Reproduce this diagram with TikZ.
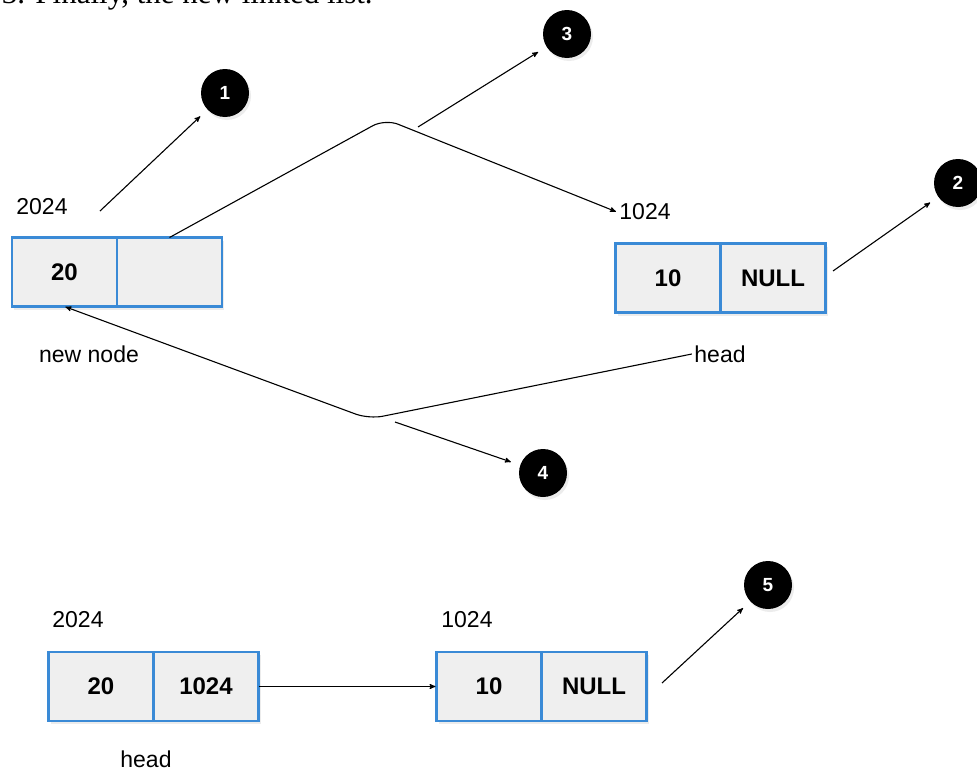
\documentclass[tikz,border=0pt]{standalone}
\usepackage{fontspec}
\setmainfont{Liberation Serif}
\newfontfamily\diafont{Liberation Sans}
\usetikzlibrary{arrows,shadows,positioning}
\definecolor{cellblue}{HTML}{3A8AD6}
\definecolor{cellgray}{HTML}{EFEFEF}

\begin{document}
\begin{tikzpicture}[x=1pt,y=-1pt,->,>=stealth',shorten >=1pt,line width=1.1pt,
    cell/.style={draw=cellblue,line width=2.6pt,fill=cellgray,outer sep=0pt,inner sep=0pt,
                 minimum width=105pt,minimum height=69pt,
                 font=\diafont\fontsize{24}{28}\selectfont\bfseries,
                 drop shadow={opacity=0.15,shadow xshift=2pt,shadow yshift=-3pt}},
    badge/.style={circle,fill=black,minimum size=48pt,inner sep=0pt,outer sep=9pt,text=white,
                  font=\diafont\fontsize{19}{22}\selectfont\bfseries,
                  drop shadow={opacity=0.15,shadow xshift=2pt,shadow yshift=-3pt}},
    addr/.style={font=\diafont\fontsize{23}{27}\selectfont,inner sep=2pt}]

\clip (0,0) rectangle (977,771);

\node[anchor=base west,font=\fontsize{31}{36}\selectfont] (title) at (-2,4) {3. Finally, the new linked list.};

  % new node and old head
  \node[cell] (nn20) at (64.5,272) {20};
  \node[cell] (nnnext) [right=0pt of nn20] {};
  \node[cell] (hd10) at (668,278) {10};
  \node[cell] (hdnull) [right=0pt of hd10] {NULL};

  \node[addr] (a2024) at (42,207) {2024};
  \node[addr] (a1024) at (645,212) {1024};
  \node[addr] (newlbl) at (89,354) {new node};
  \node[addr] (headlbl) at (720,354) {head};

  % final list
  \node[cell] (fl20) at (101,686.5) {20};
  \node[cell] (fl1024) [right=0pt of fl20] {1024};
  \node[cell] (fl10) at (489,686.5) {10};
  \node[cell] (flnull) [right=0pt of fl10] {NULL};

  \node[addr] (b2024) at (78,620) {2024};
  \node[addr] (b1024) at (467,620) {1024};
  \node[addr] (fhead) at (146,759) {head};

  % step badges
  \node[badge] (s1) at (225,93) {1};
  \node[badge] (s2) at (958,183) {2};
  \node[badge] (s3) at (567,34) {3};
  \node[badge] (s4) at (543,473) {4};
  \node[badge] (s5) at (768,585) {5};

  \coordinate (t1) at (100,211);
  \coordinate (t2) at (833,271);
  \coordinate (t3) at (418,127);
  \coordinate (t4) at (395,422);
  \coordinate (t5) at (662,683);

  \draw[rounded corners=14pt] (nnnext.north) -- (385,119) -- (a1024.west);
  \draw[rounded corners=14pt] (headlbl.west) -- (369,419) -- (nn20.south);

  \path
    (t1) edge (s1)
    (t2) edge (s2)
    (t3) edge (s3)
    (t4) edge (s4)
    (t5) edge (s5)
    (fl1024) edge (fl10)
;
\end{tikzpicture}
\end{document}
